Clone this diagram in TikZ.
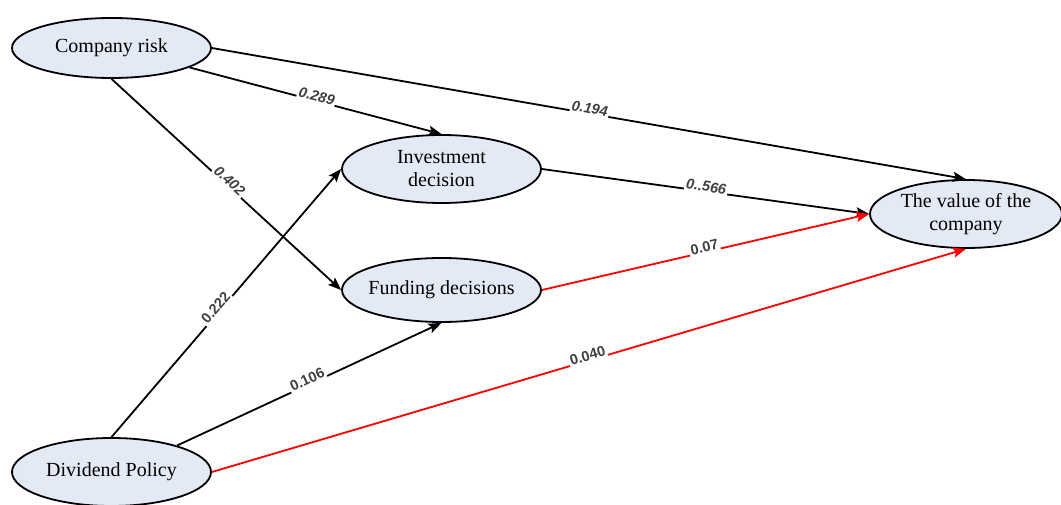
\documentclass[tikz,border=0pt]{standalone}
\usepackage{fontspec}
\setmainfont{Liberation Serif}
\newfontfamily\labfont{Liberation Sans}
\usetikzlibrary{shapes.geometric,arrows.meta}
\definecolor{nodefill}{HTML}{E4EAF5}
\definecolor{labgray}{HTML}{404040}
\begin{document}
\begin{tikzpicture}[x=1pt,y=-1pt,
  latent/.style={ellipse,draw,line width=1.8pt,fill=nodefill,inner ysep=0pt,inner xsep=-6pt,
    minimum width=199pt,minimum height=62pt,align=center,
    font=\fontsize{20}{23}\selectfont},
  pathline/.style={line width=1.8pt,-{Stealth[length=13pt,width=10pt,inset=2.5pt]}},
  redpath/.style={pathline,red},
  coef/.style={midway,sloped,above=-2.5pt,fill=white,inner sep=1.5pt,text=labgray,
    font=\labfont\bfseries\itshape\fontsize{14.5}{15}\selectfont},
  coefup/.style={coef,font=\labfont\bfseries\fontsize{14.5}{15}\selectfont}]
\path[use as bounding box] (0,0) rectangle (1061,505);
\node[latent,minimum height=60pt] (CR) at (111.5,48) {Company risk};
\node[latent,minimum height=68pt] (ID) at (441.5,169) {Investment\\decision};
\node[latent,minimum height=64pt] (FD) at (441.5,290) {Funding decisions};
\node[latent,minimum width=192pt,minimum height=68pt] (VC) at (966,214) {The value of the\\company};
\node[latent,minimum height=68pt] (DP) at (111.5,472) {Dividend Policy};

\draw[pathline] (CR.east) -- node[coef]{0.194} (VC.north);
\draw[pathline] (CR.-14) -- node[coef]{0.289} (ID.north);
\draw[pathline] (CR.south) -- node[coef]{0.402} (FD.west);
\draw[pathline] (ID.east) -- node[coef]{0..566} (VC.west);
\draw[redpath] (FD.east) -- node[coefup]{0.07} (VC.west);
\draw[pathline] (DP.north) -- node[coefup,pos=0.47]{0.222} (ID.west);
\draw[pathline] (DP.22) -- node[coefup]{0.106} (FD.south);
\draw[redpath] (DP.east) -- node[coefup]{0.040} (VC.south);
\end{tikzpicture}
\end{document}
